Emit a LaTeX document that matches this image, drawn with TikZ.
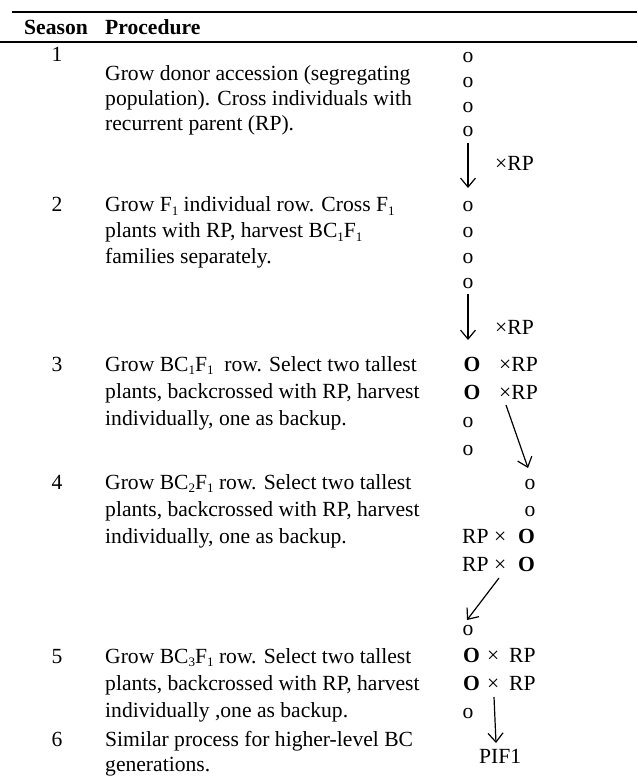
\documentclass[tikz,border=0pt]{standalone}
\usepackage{fontspec}
\setmainfont{Liberation Serif}
\usetikzlibrary{arrows.meta}
\tikzset{
  txt/.style={anchor=base west, inner sep=0pt, font=\fontsize{21.6}{25}\selectfont},
  num/.style={anchor=base, inner sep=0pt, font=\fontsize{21.6}{25}\selectfont},
  hdr/.style={anchor=base west, inner sep=0pt, font=\fontsize{21.6}{25}\selectfont\bfseries},
  mk/.style={anchor=base, inner sep=0pt, font=\fontsize{21.6}{25}\selectfont},
  mkb/.style={anchor=base, inner sep=0pt, font=\fontsize{21.6}{25}\selectfont\bfseries},
  mkw/.style={anchor=base west, inner sep=0pt, font=\fontsize{21.6}{25}\selectfont},
  arr/.style={line width=1.2pt, -{Straight Barb[length=9pt,width=15pt,line width=1.2pt]}},
  rule/.style={line width=1.6pt}
}
\newcommand{\sbs}[1]{\raisebox{-0.35ex}{\fontsize{13}{13}\selectfont #1}}
\begin{document}
\begin{tikzpicture}[x=1pt,y=-1pt]
\useasboundingbox (0,0) rectangle (637,783);
% rules
\coordinate (r1a) at (12,12); \coordinate (r1b) at (637,12);
\coordinate (r2a) at (0,42); \coordinate (r2b) at (637,42);
\draw[rule] (r1a) -- (r1b);
\draw[rule] (r2a) -- (r2b);
% header
\node[hdr] (hS) at (24,35) {Season};
\node[hdr] (hP) at (105,35) {Procedure};
% season numbers
\node[num] (n1) at (57,62) {1};
\node[num] (n2) at (57,212) {2};
\node[num] (n3) at (57,371) {3};
\node[num] (n4) at (57,489) {4};
\node[num] (n5) at (57,663) {5};
\node[num] (n6) at (57,746) {6};
% procedure texts
\node[txt] (t1a) at (105,81) {Grow donor accession (segregating};
\node[txt] (t1b) at (105,106) {population). Cross individuals with};
\node[txt] (t1c) at (105,131) {recurrent parent (RP).};
\node[txt] (t2a) at (105,212) {Grow F\sbs{1} individual row. Cross F\sbs{1}};
\node[txt] (t2b) at (105,238) {plants with RP, harvest BC\sbs{1}F\sbs{1}};
\node[txt] (t2c) at (105,263) {families separately.};
\node[txt] (t3a) at (105,371) {Grow BC\sbs{1}F\sbs{1}\ \ row. Select two tallest};
\node[txt] (t3b) at (105,398) {plants, backcrossed with RP, harvest};
\node[txt] (t3c) at (105,425) {individually, one as backup.};
\node[txt] (t4a) at (105,489) {Grow BC\sbs{2}F\sbs{1} row. Select two tallest};
\node[txt] (t4b) at (105,516) {plants, backcrossed with RP, harvest};
\node[txt] (t4c) at (105,543) {individually, one as backup.};
\node[txt] (t5a) at (105,663) {Grow BC\sbs{3}F\sbs{1} row. Select two tallest};
\node[txt] (t5b) at (105,690) {plants, backcrossed with RP, harvest};
\node[txt] (t5c) at (105,717) {individually ,one as backup.};
\node[txt] (t6a) at (105,746) {Similar process for higher-level BC};
\node[txt] (t6b) at (105,771) {generations.};
% right column: season 1
\node[mk] (a1) at (468,63) {o};
\node[mk] (a2) at (468,88) {o};
\node[mk] (a3) at (468,113) {o};
\node[mk] (a4) at (468,137) {o};
\coordinate (a4s) at (468,143);
\coordinate (a5) at (468,188);
\draw[arr] (a4s) -- (a5);
\node[mkw] (x1) at (495,171) {×RP};
% season 2
\node[mk] (b1) at (468,212) {o};
\node[mk] (b2) at (468,238) {o};
\node[mk] (b3) at (468,263) {o};
\node[mk] (b4) at (468,288) {o};
\coordinate (b4s) at (468,294);
\coordinate (b5) at (468,340);
\draw[arr] (b4s) -- (b5);
\node[mkw] (x2) at (495,334) {×RP};
% season 3
\node[mkb] (c1) at (472,371) {O};
\node[mkw] (c1x) at (499,371) {×RP};
\node[mkb] (c2) at (472,399) {O};
\node[mkw] (c2x) at (499,399) {×RP};
\node[mk] (c3) at (468,427) {o};
\node[mk] (c4) at (468,455) {o};
\coordinate (c2s) at (506,405);
\coordinate (d0) at (528,468);
\draw[arr] (c2s) -- (d0);
% season 4
\node[mk] (d1) at (530,489) {o};
\node[mk] (d2) at (530,516) {o};
\node[mkw] (d3) at (462,543) {RP ×\hspace{12pt}\textbf{O}};
\node[mkw] (d4) at (462,571) {RP ×\hspace{12pt}\textbf{O}};
\coordinate (d4s) at (499,578);
\coordinate (e0) at (467,620);
\draw[arr] (d4s) -- (e0);
% season 5
\node[mk] (e1) at (468,635) {o};
\node[mkw] (e2) at (463,662) {\textbf{O}\hspace{7pt}×\hspace{10pt}RP};
\node[mkw] (e3) at (463,690) {\textbf{O}\hspace{7pt}×\hspace{10pt}RP};
\node[mk] (e4) at (468,718) {o};
\coordinate (e3s) at (494,697);
\coordinate (f0) at (496,743);
\draw[arr] (e3s) -- (f0);
\node[mkw] (pif) at (479,763) {PIF1};
\end{tikzpicture}
\end{document}
